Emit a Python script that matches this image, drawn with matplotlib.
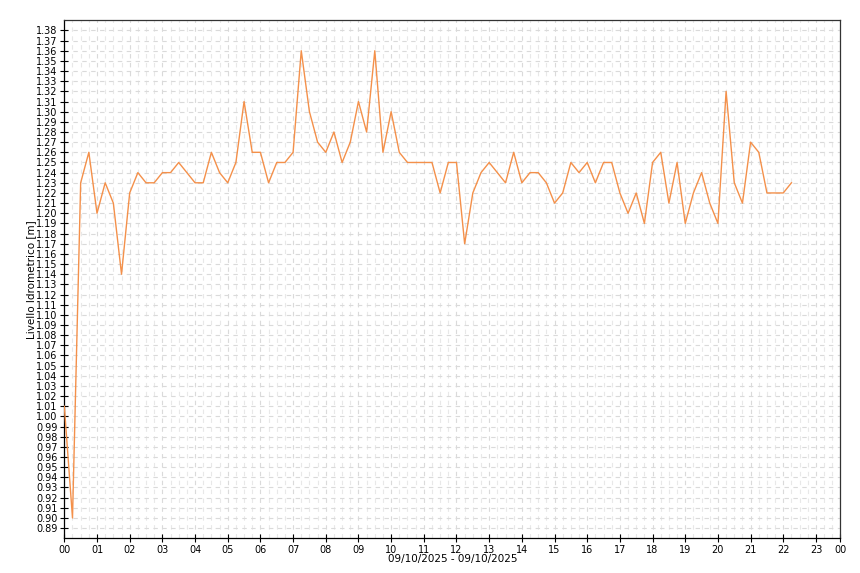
import numpy as np
from matplotlib import pyplot as plt
from matplotlib.ticker import MultipleLocator

# water level readings every 15 minutes, 09/10/2025 from 00:00
level = [1.01, 0.90, 1.23, 1.26, 1.20, 1.23, 1.21, 1.14, 1.22, 1.24,
         1.23, 1.23, 1.24, 1.24, 1.25, 1.24, 1.23, 1.23, 1.26, 1.24,
         1.23, 1.25, 1.31, 1.26, 1.26, 1.23, 1.25, 1.25, 1.26, 1.36,
         1.30, 1.27, 1.26, 1.28, 1.25, 1.27, 1.31, 1.28, 1.36, 1.26,
         1.30, 1.26, 1.25, 1.25, 1.25, 1.25, 1.22, 1.25, 1.25, 1.17,
         1.22, 1.24, 1.25, 1.24, 1.23, 1.26, 1.23, 1.24, 1.24, 1.23,
         1.21, 1.22, 1.25, 1.24, 1.25, 1.23, 1.25, 1.25, 1.22, 1.20,
         1.22, 1.19, 1.25, 1.26, 1.21, 1.25, 1.19, 1.22, 1.24, 1.21,
         1.19, 1.32, 1.23, 1.21, 1.27, 1.26, 1.22, 1.22, 1.22, 1.23]
hours = np.arange(len(level)) * 0.25

xtick_pos = list(range(24)) + [23.75]
xtick_lab = ['%02d' % h for h in range(24)] + ['00']
ytick_vals = np.round(np.arange(0.89, 1.385, 0.01), 2)

fig = plt.figure(figsize=(8.6, 5.73), dpi=100)
ax = fig.add_axes([0.0748, 0.0606, 0.9025, 0.904])

ax.plot(hours, level, color='#f4904a', lw=1.0, zorder=3)

ax.set_xlim(0, 23.75)
ax.set_ylim(0.88, 1.39)

ax.set_xticks(xtick_pos)
ax.set_xticklabels(xtick_lab, fontsize=7)
ax.xaxis.set_minor_locator(MultipleLocator(0.25))
ax.set_yticks(ytick_vals)
ax.set_yticklabels(['%.2f' % v for v in ytick_vals], fontsize=7)

ax.tick_params(which='major', direction='inout', length=6, width=0.8, pad=2)
ax.tick_params(which='minor', length=0)

# dashed grid: hours + 15 min vertical, every cm horizontal
ax.grid(which='major', axis='both', color='#dadada', ls=(0, (4, 4)), lw=0.8)
ax.grid(which='minor', axis='x', color='#e8e8e8', ls=(0, (4, 4)), lw=0.8)
ax.set_axisbelow(True)

for s in ['top', 'right']:
    ax.spines[s].set_color('#333333')
for s in ['left', 'bottom']:
    ax.spines[s].set_color('black')
for s in ax.spines.values():
    s.set_linewidth(0.9)

ax.set_ylabel('Livello Idrometrico [m]', fontsize=7.5, labelpad=0)
ax.set_xlabel('09/10/2025 - 09/10/2025', fontsize=7.5, labelpad=-1)

fig.savefig('out.png', dpi=100)
